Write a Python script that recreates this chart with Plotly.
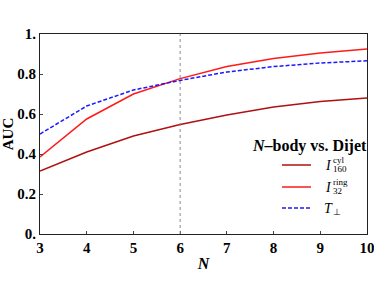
import plotly.graph_objects as go

N = [3, 4, 5, 6, 7, 8, 9, 10]
auc_cyl160 = [0.315, 0.41, 0.49, 0.547, 0.595, 0.635, 0.662, 0.68]
auc_ring32 = [0.385, 0.575, 0.70, 0.777, 0.837, 0.878, 0.905, 0.925]
auc_perp = [0.50, 0.64, 0.72, 0.768, 0.81, 0.837, 0.855, 0.866]
ytick_vals = [0, 0.2, 0.4, 0.6, 0.8, 1.0]
ytick_text = ["0.", "0.2", "0.4", "0.6", "0.8", "1."]
xtick_vals = [3, 4, 5, 6, 7, 8, 9, 10]

FONT = "Liberation Serif"
fig = go.Figure()
fig.add_trace(go.Scatter(x=N, y=auc_cyl160, mode="lines",
                         line=dict(color="#b01010", width=1.5), showlegend=False))
fig.add_trace(go.Scatter(x=N, y=auc_ring32, mode="lines",
                         line=dict(color="#ff1a1a", width=1.5), showlegend=False))
fig.add_trace(go.Scatter(x=N, y=auc_perp, mode="lines",
                         line=dict(color="#1a1aff", width=1.5, dash="4px,2px"), showlegend=False))

fig.add_vline(x=6, line=dict(color="#888888", width=1, dash="3px,3px"))

W, H = 374, 299
L, R, T, B = 40, 7, 34, 65
pw, ph = W - L - R, H - T - B
def px(x):
    return (x - L) / pw
def py(y):
    return 1 - (y - T) / ph

# manual legend
leg = [("#b01010", "solid", 165, "I", "cyl", "160"),
       ("#ff1a1a", "solid", 187, "I", "ring", "32"),
       ("#1a1aff", "4px,2px", 208, "T", None, "\u22a5")]

fig.add_annotation(x=px(369), y=py(146), xref="paper", yref="paper",
                   text="<b><i>N</i>\u2013body vs. Dijet</b>", showarrow=False,
                   xanchor="right", yanchor="middle", font=dict(family=FONT, size=16, color="black"))
for col, dash, yy, sym, sup, sub in leg:
    fig.add_shape(type="line", xref="paper", yref="paper",
                  x0=px(282), x1=px(311), y0=py(yy), y1=py(yy),
                  line=dict(color=col, width=1.5, dash=dash))
    fig.add_annotation(x=px(328), y=py(yy), xref="paper", yref="paper",
                       text="<i>" + sym + "</i>", showarrow=False,
                       xanchor="center", yanchor="middle",
                       font=dict(family=FONT, size=14, color="black"))
    if sup:
        fig.add_annotation(x=px(331), y=py(yy - 5), xref="paper", yref="paper",
                           text=sup, showarrow=False, xanchor="left", yanchor="middle",
                           font=dict(family=FONT, size=9, color="black"))
    fig.add_annotation(x=px(331), y=py(yy + 4), xref="paper", yref="paper",
                       text=sub, showarrow=False, xanchor="left", yanchor="middle",
                       font=dict(family=FONT, size=9, color="black"))

fig.update_layout(
    width=W, height=H, margin=dict(l=L, r=R, t=T, b=B, autoexpand=False),
    paper_bgcolor="white", plot_bgcolor="white",
    font=dict(family=FONT, size=13, color="black"),
    xaxis=dict(range=[3, 10], tickvals=xtick_vals, showgrid=False, zeroline=False,
               showline=True, mirror=True, linecolor="#222", linewidth=1,
               ticks="inside", ticklen=3, tickcolor="#444", automargin=False,
               ticklabeloverflow="allow",
               tickfont=dict(family=FONT, size=15, color="black", weight="bold"),
               title=dict(text="<b><i>N</i></b>", font=dict(family=FONT, size=16), standoff=2)),
    yaxis=dict(range=[0, 1], tickvals=ytick_vals, ticktext=ytick_text, showgrid=False,
               zeroline=False, showline=True, mirror=True, linecolor="#222", linewidth=1,
               ticks="inside", ticklen=3, tickcolor="#444", automargin=False,
               ticklabeloverflow="allow",
               tickfont=dict(family=FONT, size=15, color="black", weight="bold"),
               title=dict(text="<b>AUC</b>", font=dict(family=FONT, size=15), standoff=2)),
)
fig.write_html("out.html", config={"displayModeBar": False},
               post_script="document.body.style.margin='0px';")
